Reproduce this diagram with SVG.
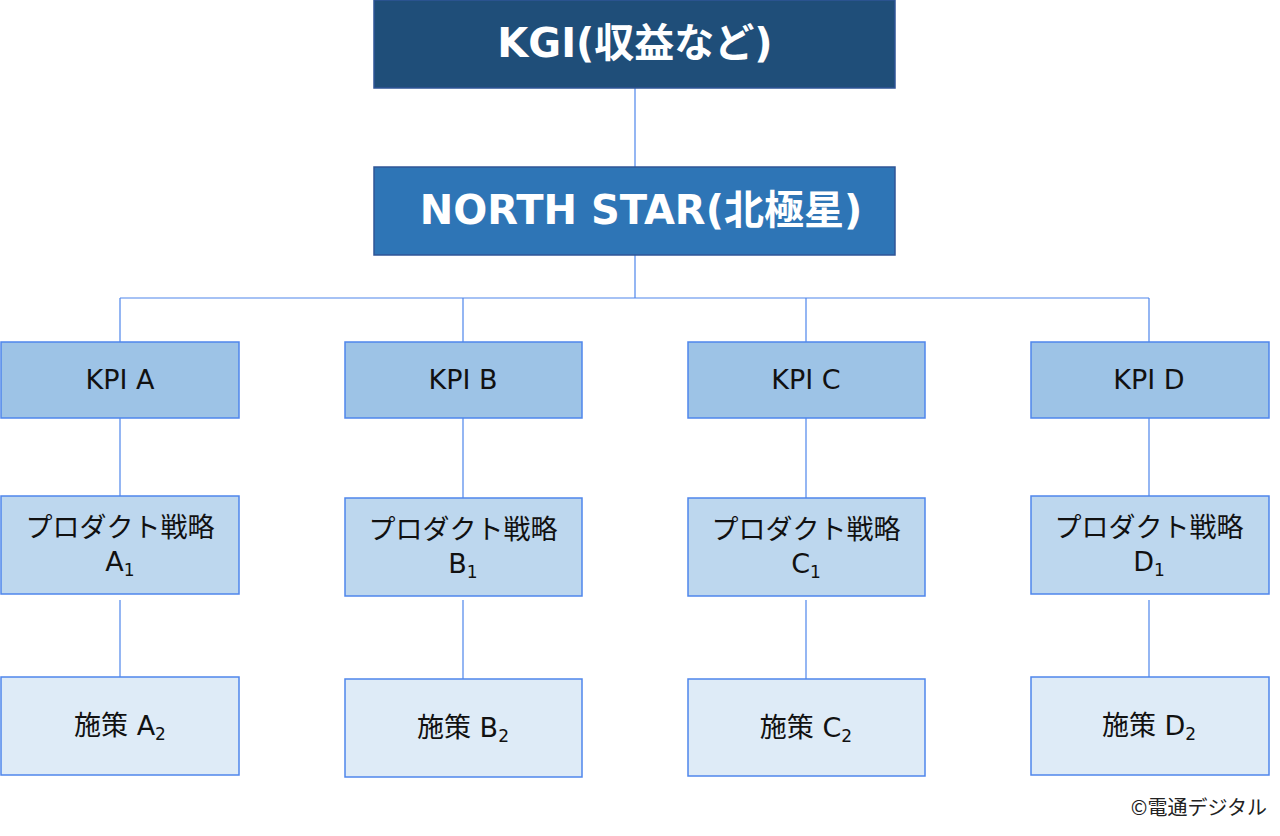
<svg xmlns="http://www.w3.org/2000/svg" width="1280" height="836" viewBox="0 0 1280 836">
<style>
.t{font-family:"DejaVu Sans","Noto Sans CJK JP",sans-serif;text-anchor:middle}
.h{font-weight:bold;fill:#ffffff;font-size:40px}
.n{fill:#111111;font-size:27px}
.kgi{fill:#1F4E79;stroke:#2F5597;stroke-width:1.5}
.ns{fill:#2E75B6;stroke:#2F5597;stroke-width:1.5}
.kpi{fill:#9DC3E6;stroke:#4F86EC;stroke-width:1.5}
.st{fill:#BDD7EE;stroke:#4F86EC;stroke-width:1.5}
.po{fill:#DEEBF7;stroke:#4F86EC;stroke-width:1.5}
.c{stroke:#4F86EC;stroke-width:1.2;fill:none}
.sub{font-size:17px}
</style>
<rect width="1280" height="836" fill="#ffffff"/>
<g id="connectors">
<path class="c" d="M635 88V167M635 255V298M120 298H1149M120 298V342M463 298V342M806 298V342M1149 298V342"/>
<path class="c" d="M120 418V496M463 418V498M806 418V498M1149 418V496"/>
<path class="c" d="M120 600V677M463 600V679M806 600V679M1149 600V677"/>
</g>
<g id="kgi"><rect class="kgi" x="374" y="0" width="521" height="88"/><text class="t h" x="635" y="57">KGI(収益など)</text></g>
<g id="northstar"><rect class="ns" x="374" y="167" width="521" height="88"/><text class="t h" x="641" y="224">NORTH STAR(北極星)</text></g>
<g id="kpi-a"><rect class="kpi" x="1" y="342" width="238" height="76"/><text class="t n" x="120" y="389">KPI A</text></g>
<g id="kpi-b"><rect class="kpi" x="345" y="342" width="237" height="76"/><text class="t n" x="463" y="389">KPI B</text></g>
<g id="kpi-c"><rect class="kpi" x="688" y="342" width="237" height="76"/><text class="t n" x="806" y="389">KPI C</text></g>
<g id="kpi-d"><rect class="kpi" x="1031" y="342" width="238" height="76"/><text class="t n" x="1149" y="389">KPI D</text></g>
<g id="strategy-a"><rect class="st" x="1" y="496" width="238" height="98"/><text class="t n" x="120" y="537">プロダクト戦略</text><text class="t n" x="120" y="571">A<tspan class="sub" dy="5">1</tspan></text></g>
<g id="strategy-b"><rect class="st" x="345" y="498" width="237" height="98"/><text class="t n" x="463" y="539">プロダクト戦略</text><text class="t n" x="463" y="573">B<tspan class="sub" dy="5">1</tspan></text></g>
<g id="strategy-c"><rect class="st" x="688" y="498" width="237" height="98"/><text class="t n" x="806" y="539">プロダクト戦略</text><text class="t n" x="806" y="573">C<tspan class="sub" dy="5">1</tspan></text></g>
<g id="strategy-d"><rect class="st" x="1031" y="496" width="238" height="98"/><text class="t n" x="1149" y="537">プロダクト戦略</text><text class="t n" x="1149" y="571">D<tspan class="sub" dy="5">1</tspan></text></g>
<g id="policy-a"><rect class="po" x="1" y="677" width="238" height="98"/><text class="t n" x="120" y="735">施策 A<tspan class="sub" dy="5">2</tspan></text></g>
<g id="policy-b"><rect class="po" x="345" y="679" width="237" height="98"/><text class="t n" x="463" y="737">施策 B<tspan class="sub" dy="5">2</tspan></text></g>
<g id="policy-c"><rect class="po" x="688" y="679" width="237" height="97"/><text class="t n" x="806" y="737">施策 C<tspan class="sub" dy="5">2</tspan></text></g>
<g id="policy-d"><rect class="po" x="1031" y="677" width="238" height="98"/><text class="t n" x="1149" y="735">施策 D<tspan class="sub" dy="5">2</tspan></text></g>
<text x="1267" y="815" font-family="'Noto Sans CJK JP',sans-serif" font-size="20" fill="#222222" text-anchor="end">©電通デジタル</text>
</svg>
